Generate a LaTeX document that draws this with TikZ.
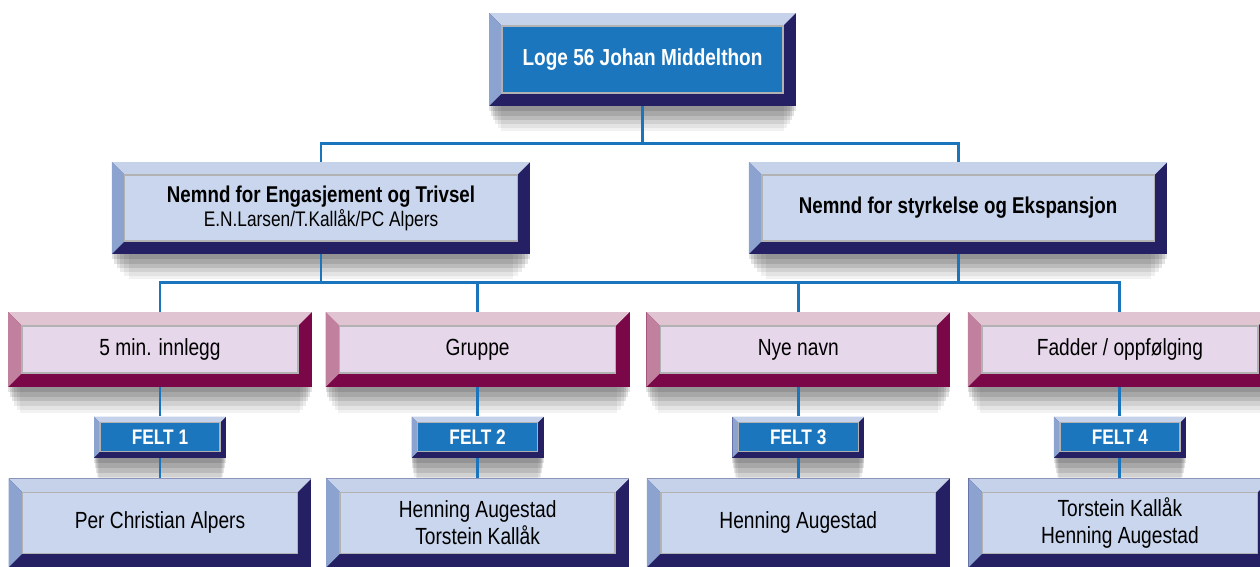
\documentclass[tikz,border=0pt]{standalone}
\usepackage{fontspec}
\setmainfont{Liberation Sans}[FakeStretch=0.82]
\usetikzlibrary{positioning, calc, shadows}
\definecolor{LinkBlue}{RGB}{27,117,188}
\definecolor{FaceBlue}{RGB}{28,118,189}
\definecolor{NavyDark}{RGB}{37,31,99}
\definecolor{BevelTop}{RGB}{198,210,234}
\definecolor{BevelLeft}{RGB}{140,163,208}
\definecolor{FaceLight}{RGB}{201,214,237}
\definecolor{PinkFace}{RGB}{230,215,234}
\definecolor{PinkTop}{RGB}{225,196,209}
\definecolor{PinkLeft}{RGB}{192,128,158}
\definecolor{PlumDark}{RGB}{122,8,72}

\tikzset{
  % light top, left side, dark bottom/right, face, bevel width
  bevel/.style n args={5}{rectangle, inner sep=0pt, fill=#3,
    path picture={
      \path (path picture bounding box.north west) coordinate (bnw)
            (path picture bounding box.north east) coordinate (bne)
            (path picture bounding box.south west) coordinate (bsw)
            (path picture bounding box.south east) coordinate (bse);
      \fill[#1] (bnw) -- (bne) -- ++(-#5,-#5) -- ($(bnw)+(#5,-#5)$) -- cycle;
      \fill[#2] (bnw) -- ($(bnw)+(#5,-#5)$) -- ($(bsw)+(#5,#5)$) -- (bsw) -- cycle;
      \fill[#4, draw=black!30, line width=0.8pt] ($(bnw)+(#5,-#5)$) rectangle ($(bse)+(-#5,#5)$);
    }},
  dropshade/.style={
    drop shadow={shadow xshift=0pt, shadow yshift=-3pt, fill=black, opacity=.11},
    drop shadow={shadow xshift=0pt, shadow yshift=-6pt, shadow scale=0.99, fill=black, opacity=.11},
    drop shadow={shadow xshift=0pt, shadow yshift=-9pt, shadow scale=0.975, fill=black, opacity=.10},
    drop shadow={shadow xshift=0pt, shadow yshift=-12pt, shadow scale=0.96, fill=black, opacity=.08},
    drop shadow={shadow xshift=0pt, shadow yshift=-15pt, shadow scale=0.94, fill=black, opacity=.06},
    drop shadow={shadow xshift=0pt, shadow yshift=-18pt, shadow scale=0.92, fill=black, opacity=.05}}
}

\begin{document}
\begin{tikzpicture}[x=0.02cm, y=-0.02cm,
    headbox/.style={bevel={BevelTop}{BevelLeft}{NavyDark}{FaceBlue}{0.26cm}, dropshade, minimum width=6.14cm, minimum height=1.86cm, text=white, font=\bfseries\fontsize{13.2}{15}\selectfont},
    nemnd/.style={bevel={BevelTop}{BevelLeft}{NavyDark}{FaceLight}{0.26cm}, dropshade, minimum width=8.37cm, minimum height=1.84cm, align=center, text=black, font=\fontsize{12}{13.7}\selectfont},
    task/.style={bevel={PinkTop}{PinkLeft}{PlumDark}{PinkFace}{0.28cm}, dropshade, minimum width=6.08cm, minimum height=1.5cm, text=black, font=\fontsize{13.3}{15.4}\selectfont},
    felt/.style={bevel={BevelTop}{BevelLeft}{NavyDark}{FaceBlue}{0.12cm}, dropshade, minimum width=2.64cm, minimum height=0.82cm, text=white, font=\bfseries\fontsize{12}{14}\selectfont},
    member/.style={bevel={BevelTop}{BevelLeft}{NavyDark}{FaceLight}{0.28cm}, dropshade, minimum width=6.06cm, minimum height=1.78cm, align=center, text=black, font=\fontsize{13.3}{15.4}\selectfont},
    link/.style={LinkBlue, line width=1.7pt}
  ]
  \path[use as bounding box, fill=white] (0,0) rectangle (1260,566);

  \node (loge) [headbox] at (642.5,59.5) {Loge 56 Johan Middelthon};

  \node (nemndA) [nemnd] at (321,208) {{\bfseries\fontsize{13}{13.7}\selectfont Nemnd for Engasjement og Trivsel}\\E.N.Larsen/T.Kallåk/PC Alpers};
  \node (nemndB) [nemnd, right=4.36cm of nemndA, font=\bfseries\fontsize{13}{15}\selectfont] {Nemnd for styrkelse og Ekspansjon};

  \node (innlegg) [task] at (160,349.5) {5 min. innlegg};
  \node (gruppe) [task, right=0.26cm of innlegg] {Gruppe};
  \node (navn) [task, right=0.32cm of gruppe] {Nye navn};
  \node (fadder) [task, right=0.34cm of navn] {Fadder / oppfølging};

  \node (felt1) [felt, below=0.58cm of innlegg] {FELT 1};
  \node (felt2) [felt, below=0.58cm of gruppe] {FELT 2};
  \node (felt3) [felt, below=0.58cm of navn] {FELT 3};
  \node (felt4) [felt, below=0.58cm of fadder] {FELT 4};

  \node (alpers) [member, below=0.4cm of felt1] {Per Christian Alpers};
  \node (augkal) [member, below=0.4cm of felt2] {Henning Augestad\\Torstein Kallåk};
  \node (augestad) [member, below=0.4cm of felt3] {Henning Augestad};
  \node (kalaug) [member, below=0.4cm of felt4] {Torstein Kallåk\\Henning Augestad};

  \coordinate (busA) at (642.5,143);
  \coordinate (busB) at (642.5,282);

  \draw [link] (loge.south) -- (busA);
  \draw [link] (nemndA.north) |- (busA) -| (nemndB.north);
  \draw [link] (innlegg.north) |- (fadder.north |- busB) -- (fadder.north);
  \foreach \n in {nemndA, nemndB}
    \draw [link] (\n.south) -- (\n.south |- busB);
  \foreach \n in {gruppe, navn}
    \draw [link] (\n.north) -- (\n.north |- busB);
  \draw [link] (innlegg) -- (felt1) -- (alpers);
  \draw [link] (gruppe) -- (felt2) -- (augkal);
  \draw [link] (navn) -- (felt3) -- (augestad);
  \draw [link] (fadder) -- (felt4) -- (kalaug);
\end{tikzpicture}
\end{document}
